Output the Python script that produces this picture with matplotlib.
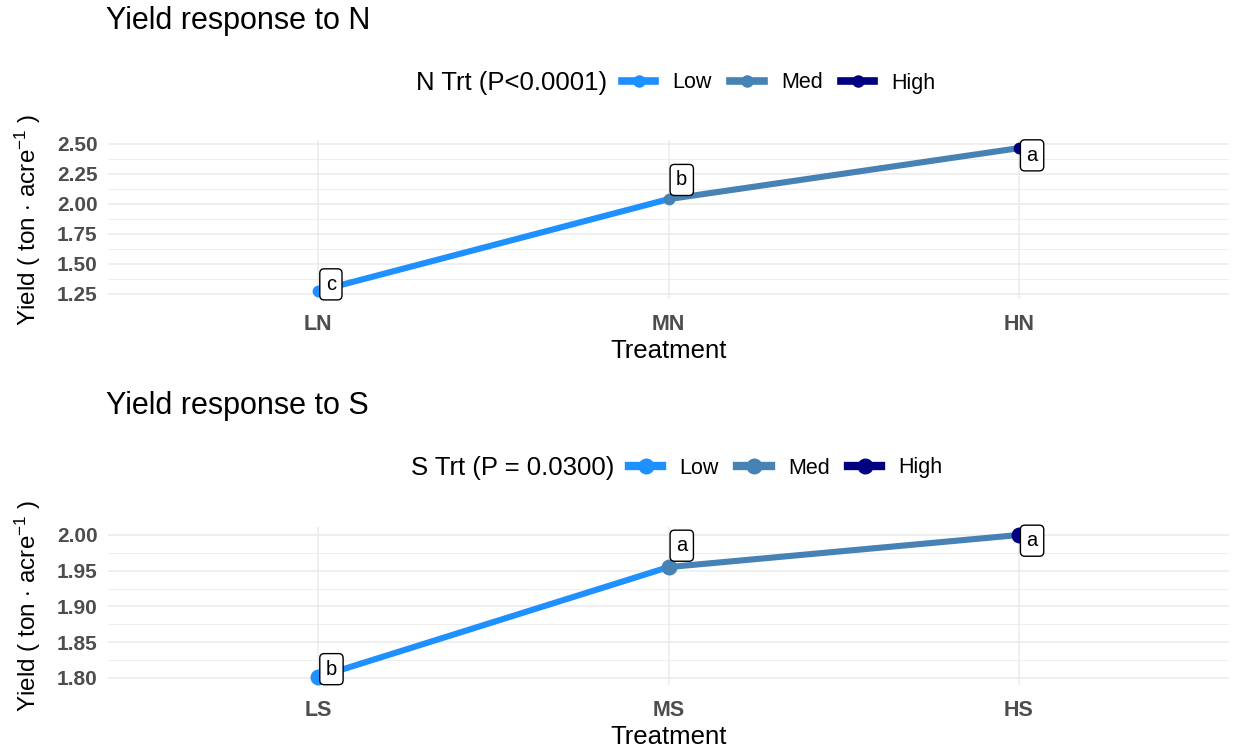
import matplotlib
matplotlib.use("Agg")
import matplotlib.pyplot as plt
import matplotlib.ticker as mticker
from matplotlib.lines import Line2D
import numpy as np

plt.rcParams['font.family'] = ['Liberation Sans', 'DejaVu Sans']
plt.rcParams['mathtext.fontset'] = 'custom'
plt.rcParams['mathtext.rm'] = 'Liberation Sans'
plt.rcParams['mathtext.it'] = 'Liberation Sans'

# Nitrogen trial
n_treatments = ["LN", "MN", "HN"]
n_yield = [1.275, 2.04, 2.465]
n_letters = ["c", "b", "a"]
n_letter_y = [1.33, 2.20, 2.405]

# Sulfur trial
s_treatments = ["LS", "MS", "HS"]
s_yield = [1.801, 1.955, 2.000]
s_letters = ["b", "a", "a"]
s_letter_y = [1.812, 1.985, 1.992]

levels = ["Low", "Med", "High"]
level_colors = ["#1E90FF", "#4682B4", "#000080"]

W, H = 1233, 750
fig = plt.figure(figsize=(W / 100, H / 100), dpi=100)
fig.patch.set_facecolor("white")


def px_axes(left, top, right, bottom):
    return fig.add_axes([left / W, 1 - bottom / H, (right - left) / W, (bottom - top) / H])


def panel(ax, cats, vals, letters, letter_y, ylim, major, minor, title, legend_title,
          title_y, legend_y, legend_x, msize, key_lw, key_ms, height_px):
    x = np.arange(len(cats))
    ax.set_xlim(-0.6, len(cats) - 1 + 0.6)
    ax.set_ylim(*ylim)
    ax.set_yticks(major)
    ax.set_yticks(minor, minor=True)
    ax.yaxis.set_major_formatter(mticker.FormatStrFormatter("%.2f"))
    ax.set_xticks(x)
    ax.set_xticklabels(cats)
    ax.grid(True, which="major", color="#EBEBEB", linewidth=1.1)
    ax.grid(True, which="minor", axis="y", color="#EBEBEB", linewidth=0.6)
    ax.set_axisbelow(True)
    for s in ax.spines.values():
        s.set_visible(False)
    ax.tick_params(axis="both", which="both", length=0)
    ax.tick_params(axis="y", labelsize=15, labelcolor="#4D4D4D", pad=7.5)
    ax.tick_params(axis="x", labelsize=15.5, labelcolor="#4D4D4D", pad=11)
    for lab in ax.get_xticklabels() + ax.get_yticklabels():
        lab.set_fontweight("bold")

    # segments coloured by their starting level
    for i in range(len(vals) - 1):
        ax.plot(x[i:i + 2], vals[i:i + 2], color=level_colors[i], lw=4.4,
                solid_capstyle="butt", zorder=3)
    for i in range(len(vals)):
        ax.plot(x[i], vals[i], "o", color=level_colors[i], ms=msize, mec="none", zorder=4)

    for i in range(len(vals)):
        ax.annotate(letters[i], (x[i], letter_y[i]), xytext=(5.5, 0),
                    textcoords="offset points", fontsize=14.5, ha="left", va="center",
                    zorder=6,
                    bbox=dict(boxstyle="round,pad=0.3,rounding_size=0.22", fc="white",
                              ec="black", lw=1.0))

    ax.set_xlabel("Treatment", fontsize=18.5)
    ax.xaxis.set_label_coords(0.5, -52 / height_px)
    ax.xaxis.label.set_verticalalignment("center")
    ax.set_ylabel(r"Yield ( ton $\cdot$ acre$^{-1}$ )", fontsize=17.5)
    ax.yaxis.set_label_coords(-80 / 1121, 0.5)
    ax.yaxis.label.set_verticalalignment("center")

    fig.text(106 / W, 1 - title_y / H, title, fontsize=22, ha="left", va="center")

    handles = [Line2D([0], [0], color=c, lw=key_lw, marker="o", ms=key_ms, mec="none")
               for c in level_colors]
    fig.text((legend_x - 15) / W, 1 - legend_y / H, legend_title, fontsize=18.5,
             ha="right", va="center")
    fig.legend(handles, levels, loc="center left",
               bbox_to_anchor=(legend_x / W, 1 - legend_y / H),
               ncol=3, frameon=False, fontsize=15.5, handlelength=1.55, handletextpad=0.8,
               columnspacing=0.85, borderaxespad=0, borderpad=0)


ax1 = px_axes(108, 140, 1229, 299)
panel(ax1, n_treatments, n_yield, n_letters, n_letter_y, (1.208, 2.533),
      [1.25, 1.50, 1.75, 2.00, 2.25, 2.50],
      [1.375, 1.625, 1.875, 2.125, 2.375],
      "Yield response to N", "N Trt (P<0.0001)", 21, 83, 622, 8.5, 5.5, 9, 159)

ax2 = px_axes(108, 527, 1229, 685)
panel(ax2, s_treatments, s_yield, s_letters, s_letter_y, (1.7898, 2.0112),
      [1.80, 1.85, 1.90, 1.95, 2.00],
      [1.825, 1.875, 1.925, 1.975],
      "Yield response to S", "S Trt (P = 0.0300)", 406, 468, 629, 11.5, 6, 11.5, 158)

fig.savefig("out.png", dpi=100, facecolor="white")
